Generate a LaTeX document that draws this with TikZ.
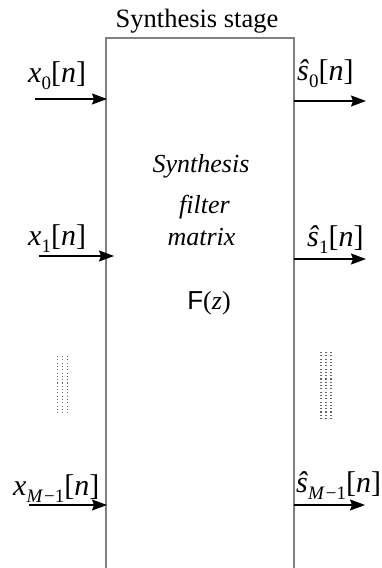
\documentclass[tikz,border=0pt]{standalone}
\usepackage{fontspec}
\setmainfont{Liberation Serif}
\newfontfamily\sansF{Liberation Sans}
\usetikzlibrary{arrows.meta}
\tikzset{
  boxline/.style={draw=black!50, line width=1.4pt},
  sig/.style={draw=black, line width=1.1pt, -{Stealth[length=15pt,width=11pt,inset=2pt]}},
  lbl/.style={anchor=base west, inner sep=0pt, font=\fontsize{30}{32}\selectfont},
  inner/.style={anchor=base, inner sep=0pt, font=\fontsize{26}{30}\selectfont\itshape},
  dotcol/.style={draw=black!60, line width=1.1pt, dash pattern=on 1.1pt off 2.2pt}
}
\newcommand{\sub}[1]{\raisebox{-0.25em}{\fontsize{19}{20}\selectfont #1}}
\begin{document}
\begin{tikzpicture}[x=1pt,y=-1pt]
\useasboundingbox (0,0) rectangle (381,568);
% box (open at the bottom)
\coordinate (bl) at (106,568);
\coordinate (tl) at (106,38);
\coordinate (tr) at (294,38);
\coordinate (br) at (294,568);
\draw[boxline] (bl) -- (tl) -- (tr) -- (br);
% title
\node[anchor=base, inner sep=0pt, font=\fontsize{26.5}{30}\selectfont] (title) at (197,27) {Synthesis stage};
% inner text
\node[inner] (t1) at (201,172) {Synthesis};
\node[inner] (t2) at (204.5,213) {filter};
\node[inner] (t3) at (201.5,245) {matrix};
\node[anchor=base, inner sep=0pt, font=\fontsize{26}{30}\selectfont] (fz) at (209,309) {{\sansF F}(\textit{z})};
% input arrows
\coordinate (i0s) at (35,99);  \coordinate (i0e) at (107,99);
\coordinate (i1s) at (39,256); \coordinate (i1e) at (114,256);
\coordinate (i2s) at (29,505); \coordinate (i2e) at (107,505);
\draw[sig] (i0s) -- (i0e);
\draw[sig] (i1s) -- (i1e);
\draw[sig] (i2s) -- (i2e);
% output arrows
\coordinate (o0s) at (294,101); \coordinate (o0e) at (366,101);
\coordinate (o1s) at (294,259); \coordinate (o1e) at (366,259);
\coordinate (o2s) at (294,505); \coordinate (o2e) at (365,505);
\draw[sig] (o0s) -- (o0e);
\draw[sig] (o1s) -- (o1e);
\draw[sig] (o2s) -- (o2e);
% labels
\node[lbl] (lx0) at (28,82) {\textit{x}\sub{0}[\textit{n}]};
\node[lbl] (lx1) at (28,245) {\textit{x}\sub{1}[\textit{n}]};
\node[lbl] (lx2) at (13,495) {\textit{x}\sub{\textit{M}\kern1pt−1}[\textit{n}]};
\node[lbl] (ls0) at (297,80) {\textit{ŝ}\sub{0}[\textit{n}]};
\node[lbl] (ls1) at (307,246) {\textit{ŝ}\sub{1}[\textit{n}]};
\node[lbl] (ls2) at (296,492) {\textit{ŝ}\sub{\textit{M}\kern1pt−1}[\textit{n}]};
% vertical dots (ellipsis)
\foreach \c in {57.7,62.3,67.3} {\draw[dotcol] (\c,356) -- (\c,413);}
\foreach \c in {321,326,331} {\draw[dotcol] (\c,352) -- (\c,421);}
\end{tikzpicture}
\end{document}
